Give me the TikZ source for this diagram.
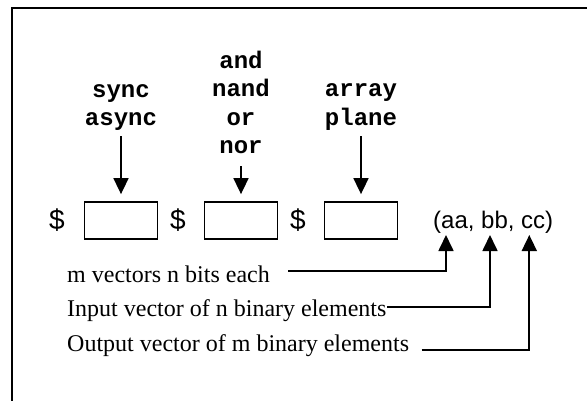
\documentclass[tikz,border=0pt]{standalone}
\usepackage{fontspec}
\setmainfont{Liberation Serif}
\newfontfamily\monof{Liberation Mono}
\newfontfamily\arialf{Liberation Sans}
\usetikzlibrary{arrows.meta}
\begin{document}
\begin{tikzpicture}[x=1pt,y=-1pt,
  frame/.style={line width=2pt},
  slot/.style={draw,line width=1.8pt,minimum width=73pt,minimum height=37pt,inner sep=0pt},
  codelbl/.style={font=\monof\bfseries\fontsize{24}{28.5}\selectfont,align=center,inner sep=0pt,anchor=north},
  sanslbl/.style={font=\arialf\fontsize{24}{28.8}\selectfont,inner sep=0pt},
  dollar/.style={font=\arialf\fontsize{28}{33}\selectfont,inner sep=0pt,anchor=base},
  desc/.style={font=\fontsize{24}{28.8}\selectfont,inner sep=0pt,anchor=base west},
  conn/.style={line width=1.7pt,-{Triangle[length=16pt,width=15pt]}},
]
\useasboundingbox (0,0) rectangle (587,400);
% frame (only top and left edges fall inside the picture)
\draw[frame] (11.8,7.5) rectangle (640,440);

% option labels
\node[codelbl] (c1) at (121,77) {\strut sync\\\strut async};
\node[codelbl] (c2) at (241,48.3) {\strut and\\\strut nand\\\strut or\\\strut nor};
\node[codelbl] (c3) at (361,76.7) {\strut array\\\strut plane};

% slots
\node[slot] (b1) at (121,220.5) {};
\node[slot] (b2) at (241,220.5) {};
\node[slot] (b3) at (361,220.5) {};

% dollar signs
\node[dollar] (d1) at (57,229) {\$};
\node[dollar] (d2) at (178,229) {\$};
\node[dollar] (d3) at (298,229) {\$};

% tuple
\node[sanslbl,anchor=base west] (tup) at (433,228) {(aa, bb, cc)};

% arrows into slots
\draw[conn,shorten <=2pt,shorten >=7pt] (c1.south) -- (b1.north);
\draw[conn,shorten <=3.7pt,shorten >=7pt] (c2.south) -- (b2.north);
\draw[conn,shorten <=2pt,shorten >=7pt] (c3.south) -- (b3.north);

% descriptions
\node[desc] (t1) at (67,282) {m vectors n bits each};
\node[desc] (t2) at (67,316.5) {Input vector of n binary elements};
\node[desc] (t3) at (67,351) {Output vector of m binary elements};

\coordinate (ta) at (446,235);
\coordinate (tb) at (490,235);
\coordinate (tc) at (529.3,235);
\coordinate (s1) at (288,271);
\coordinate (s2) at (387,306.7);
\coordinate (s3) at (421.7,350);

\draw[conn] (s1) -| (ta);
\draw[conn] (s2) -| (tb);
\draw[conn] (s3) -| (tc);
\end{tikzpicture}
\end{document}
